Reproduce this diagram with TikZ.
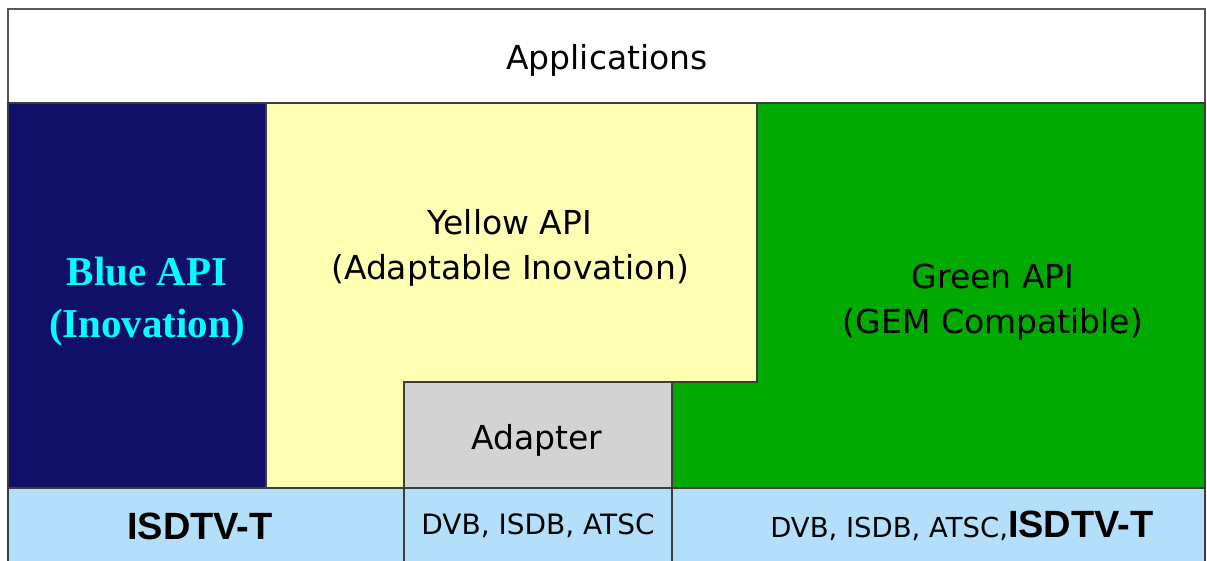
\documentclass[tikz,border=0pt]{standalone}
\usepackage{fontspec}
\setmainfont{DejaVu Sans}
\newfontfamily\boldsans{Liberation Sans}[BoldFont={Liberation Sans Bold}]
\newfontfamily\serifb{Liberation Serif}[BoldFont={Liberation Serif Bold}]
\definecolor{blueapi}{RGB}{17,16,104}
\definecolor{yellowapi}{RGB}{255,255,179}
\definecolor{greenapi}{RGB}{0,170,0}
\definecolor{adaptgray}{RGB}{211,211,211}
\definecolor{lightblue}{RGB}{179,223,250}
\definecolor{edge}{RGB}{60,60,60}
\definecolor{cyantext}{RGB}{0,255,255}
\begin{document}
\begin{tikzpicture}[x=1pt,y=-1pt,
  region/.style={draw=edge,line width=2pt},
  lbl/.style={text=black,align=center,inner sep=0pt,font=\fontsize{33}{45}\selectfont},
  small/.style={text=black,inner sep=0pt,font=\fontsize{28}{34}\selectfont},
  heavy/.style={text=black,inner sep=0pt,font=\boldsans\bfseries\fontsize{38}{44}\selectfont},
  bluelbl/.style={align=center,inner sep=0pt,font=\serifb\bfseries\fontsize{41}{52}\selectfont}]
\useasboundingbox (0,0) rectangle (1207,560);
\fill[white] (0,0) rectangle (1207,560);
% regions
\draw[region,draw=gray!70!black,fill=white] (8,9) rectangle (1205,103);
\draw[region,fill=blueapi] (8,103) rectangle (266,488);
\draw[region,fill=yellowapi] (266,103) -- (757,103) -- (757,382) -- (404,382) -- (404,488) -- (266,488) -- cycle;
\draw[region,fill=greenapi] (757,103) -- (1205,103) -- (1205,488) -- (672,488) -- (672,382) -- (757,382) -- cycle;
\draw[region,fill=adaptgray] (404,382) rectangle (672,488);
\draw[region,fill=lightblue] (8,488) rectangle (1205,575);
\draw[region] (404,488) -- (404,575);
\draw[region] (672,488) -- (672,575);
% labels
\node[lbl] (apps) at (607,60) {Applications};
\node[lbl] (yellow) at (510,248) {Yellow API\\(Adaptable Inovation)};
\node[lbl] (green) at (993,302) {Green API\\(GEM Compatible)};
\node[lbl] (adapter) at (537,440) {Adapter};
\node[bluelbl,text=cyantext] (blue) at (147,302) {Blue API\\(Inovation)};
\node[heavy] (isdtv) at (200,526) {ISDTV-T};
\node[small] (dvbmid) at (538,526) {DVB, ISDB, ATSC};
\node[inner sep=0pt,text=black] (dvbright) at (962,526) {{\fontsize{27.5}{34}\selectfont DVB, ISDB, ATSC,}{\boldsans\bfseries\fontsize{38}{44}\selectfont ISDTV-T}};
\end{tikzpicture}
\end{document}
